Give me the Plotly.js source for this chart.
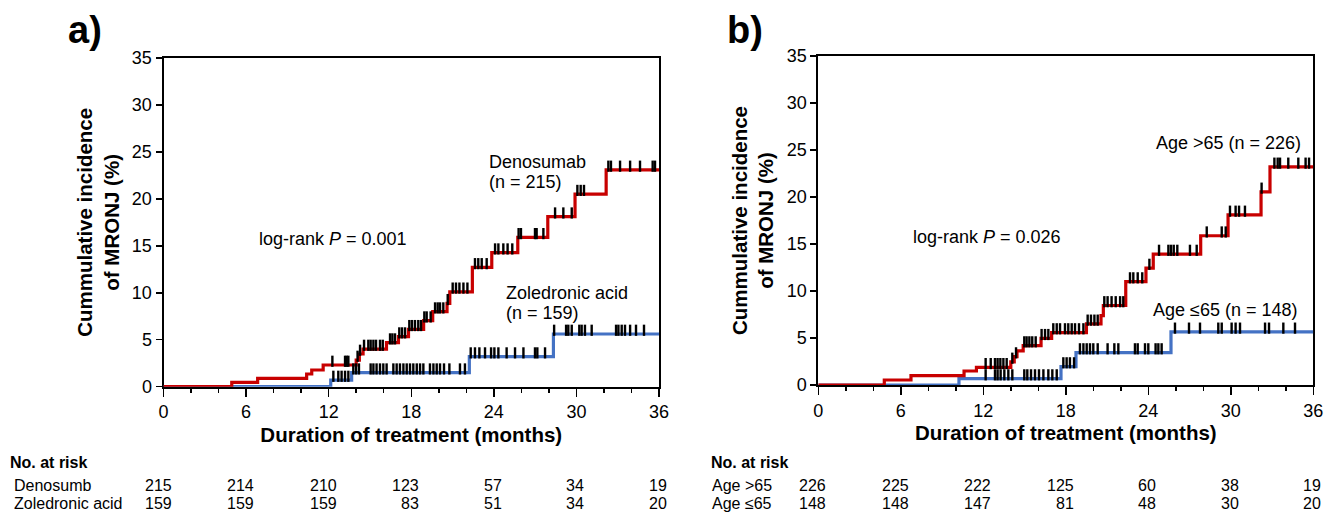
<!DOCTYPE html>
<html>
<head>
<meta charset="utf-8">
<script src="https://cdn.plot.ly/plotly-3.0.1.min.js"></script>
<style>html,body{margin:0;padding:0;background:#fff;}#chart{width:1336px;height:516px;}</style>
</head>
<body>
<div id="chart"></div>
<script>
// ---------- DATA ----------
const riskMonths = [0, 6, 12, 18, 24, 30, 36];

// Panel a: Denosumab
const denoStepT = [0, 4.96, 6.84, 10.4, 10.77, 11.6, 14.0, 14.23, 14.5, 16.2, 17.07, 17.8, 18.9, 19.56, 20.6, 20.8, 22.44, 23.85, 25.74, 27.92, 29.9, 32.16];
const denoStepV = [0, 0.47, 0.89, 1.35, 1.78, 2.31, 2.84, 3.48, 4.01, 4.69, 5.33, 6.11, 7.03, 7.99, 8.88, 10.1, 12.7, 14.27, 15.9, 18.1, 20.5, 23.08];
const denoCensorT = [12.27, 13.19, 13.31, 13.43, 14.1, 14.28, 14.57, 14.88, 15.05, 15.25, 15.44, 15.73, 15.93,
  16.46, 16.63, 16.82, 17.13, 17.33, 17.55, 17.86, 18.05, 18.27, 18.51, 18.71, 18.95, 19.12, 19.41,
  19.73, 19.92, 20.09, 20.33, 20.65, 21.01, 21.25, 21.5, 21.79, 22.08, 22.63, 22.87, 23.12, 23.48,
  24.09, 24.33, 24.69, 25.0, 25.34, 25.8, 25.97, 26.99, 27.11, 27.6, 28.45, 29.05, 29.66,
  30.07, 30.31, 30.55, 32.32, 32.51, 33.17, 33.9, 34.62, 35.54, 35.71];

// Panel a: Zoledronic acid
const zolStepT = [0, 12.15, 13.67, 22.22, 28.33];
const zolStepV = [0, 0.71, 1.49, 3.2, 5.61];
const zolCensorT = [12.34, 12.7, 12.94, 13.19, 13.43, 13.79, 13.99, 14.2, 15.05, 15.25, 15.48, 15.73, 15.97, 16.21,
  16.7, 16.94, 17.18, 17.43, 17.67, 17.91, 18.15, 18.4, 18.64, 18.88, 19.36, 19.61, 19.85, 20.09, 20.38, 20.77,
  21.54, 21.9, 22.32, 22.63, 22.95, 23.36, 23.8, 24.04, 24.33, 24.93, 25.54, 26.15, 26.99, 27.16, 27.72,
  28.38, 29.25, 29.41, 29.66, 30.21, 30.38, 30.62, 31.11, 32.88, 33.05, 33.29, 33.53, 33.9, 34.33, 34.91];

// Panel b: Age >65
const oldStepT = [0, 4.8, 6.74, 10.6, 11.5, 14.0, 14.25, 14.45, 14.9, 16.2, 16.97, 19.5, 20.56, 20.73, 22.36, 23.83, 24.36, 27.81, 29.8, 32.2, 32.85];
const oldStepV = [0, 0.53, 0.99, 1.49, 1.88, 2.45, 3.02, 3.62, 4.19, 4.97, 5.58, 6.5, 7.39, 8.46, 11.0, 12.44, 13.93, 15.88, 18.09, 20.54, 23.2];
const oldCensorT = [12.17, 12.54, 12.85, 13.04, 13.24, 13.46, 13.7, 14.11, 14.38, 14.98, 15.15, 15.35, 15.56, 15.81,
  16.24, 16.49, 16.73, 17.09, 17.34, 17.58, 17.94, 18.18, 18.43, 18.67, 18.96, 19.28, 19.59, 19.83, 20.08, 20.32,
  20.8, 21.04, 21.33, 21.63, 21.95, 22.18, 22.67, 22.91, 23.23, 23.56, 24.08, 24.78, 25.46, 25.65, 25.85, 26.11,
  27.03, 27.52, 28.25, 29.34, 29.63, 29.94, 30.35, 30.6, 31.03, 32.24, 33.17, 33.41, 33.58, 34.18, 34.91, 35.44, 35.69];

// Panel b: Age <=65
const youngStepT = [0, 10.23, 17.65, 18.74, 25.65];
const youngStepV = [0, 0.68, 1.96, 3.45, 5.65];
const youngCensorT = [12.17, 12.85, 13.04, 13.26, 13.53, 13.82, 14.11, 14.98, 15.2, 15.47, 15.76, 16.05, 16.37, 16.73, 17.02, 17.34,
  17.82, 18.06, 18.3, 18.6, 19.03, 19.28, 19.52, 19.76, 20.0, 20.32, 21.04, 21.53, 21.82, 23.03, 23.23, 23.76, 24.0,
  24.53, 24.73, 24.97, 25.94, 26.96, 27.76, 29.09, 29.34, 30.06, 30.35, 30.67, 32.49, 32.78, 33.82, 34.67];

// Numbers at risk
const riskDeno = [215, 214, 210, 123, 57, 34, 19];
const riskZol = [159, 159, 159, 83, 51, 34, 20];
const riskOld = [226, 225, 222, 125, 60, 38, 19];
const riskYoung = [148, 148, 147, 81, 48, 30, 20];

// ---------- BUILD ----------
const FONT = 'Liberation Sans, Arial, Helvetica, sans-serif';
const RED = '#C80000';
const BLUE = '#4472C4';
const END = 36;
const CENSOR_OFFSET = 0.4;

function stepTrace(T, V, color, xa, ya) {
  return {
    x: T.concat([END]), y: V.concat([V[V.length - 1]]),
    xaxis: xa, yaxis: ya, type: 'scatter', mode: 'lines',
    line: {shape: 'hv', color: color, width: 3.2}, hoverinfo: 'skip', showlegend: false
  };
}
function levelAt(t, T, V) {
  let v = V[0];
  for (let i = 0; i < T.length; i++) { if (T[i] <= t) v = V[i]; }
  return v;
}
function censorTrace(C, T, V, xa, ya) {
  return {
    x: C, y: C.map(t => levelAt(t, T, V) + CENSOR_OFFSET),
    xaxis: xa, yaxis: ya, type: 'scatter', mode: 'markers',
    marker: {symbol: 'line-ns', size: 8, line: {width: 2.4, color: '#000'}, color: '#000'},
    hoverinfo: 'skip', showlegend: false, cliponaxis: false
  };
}

const data = [
  stepTrace(zolStepT, zolStepV, BLUE, 'x', 'y'),
  stepTrace(denoStepT, denoStepV, RED, 'x', 'y'),
  censorTrace(zolCensorT, zolStepT, zolStepV, 'x', 'y'),
  censorTrace(denoCensorT, denoStepT, denoStepV, 'x', 'y'),
  stepTrace(youngStepT, youngStepV, BLUE, 'x2', 'y2'),
  stepTrace(oldStepT, oldStepV, RED, 'x2', 'y2'),
  censorTrace(youngCensorT, youngStepT, youngStepV, 'x2', 'y2'),
  censorTrace(oldCensorT, oldStepT, oldStepV, 'x2', 'y2')
];

function xAxis(domain, anchor) {
  return {
    domain: domain, anchor: anchor, range: [0, 36], dtick: 6, tick0: 0,
    showline: true, linewidth: 2, linecolor: '#000', mirror: true,
    ticks: 'outside', ticklen: 8, tickwidth: 1.5, tickcolor: '#000',
    minor: {dtick: 2, tick0: 0, ticks: 'outside', ticklen: 4, tickwidth: 1.5, tickcolor: '#000', showgrid: false},
    showgrid: false, zeroline: false, layer: 'below traces',
    tickfont: {family: FONT, size: 18, color: '#000'},
    title: {text: 'Duration of treatment (months)', font: {family: FONT, size: 20.5, color: '#000', weight: 'bold'}, standoff: 6},
    automargin: false, fixedrange: true
  };
}
function yAxis(domain, anchor) {
  return {
    domain: domain, anchor: anchor, range: [0, 35], dtick: 5, tick0: 0,
    showline: true, linewidth: 2, linecolor: '#000', mirror: true,
    ticks: 'outside', ticklen: 6, tickwidth: 1.5, tickcolor: '#000',
    showgrid: false, zeroline: false, layer: 'below traces',
    tickfont: {family: FONT, size: 18, color: '#000'},
    title: {text: 'Cummulative incidence<br>of MRONJ (%)', font: {family: FONT, size: 20.5, color: '#000', weight: 'bold'}, standoff: 7},
    automargin: false, fixedrange: true
  };
}

const annFont = {family: FONT, size: 18, color: '#000'};
const annotations = [];
function txt(text, x, y, xref, yref, xanchor, font, extra) {
  annotations.push(Object.assign({text: text, x: x, y: y, xref: xref, yref: yref, xanchor: xanchor, yanchor: 'middle', showarrow: false, font: font}, extra || {}));
}
// Panel labels
txt('a)', 66 / 1336, 0.942, 'paper', 'paper', 'left', {family: FONT, size: 38, color: '#000', weight: 'bold'});
txt('b)', 725 / 1336, 0.942, 'paper', 'paper', 'left', {family: FONT, size: 38, color: '#000', weight: 'bold'});
// Panel a labels
txt('Denosumab', 23.53, 23.96, 'x', 'y', 'left', annFont);
txt('(n = 215)', 23.53, 21.77, 'x', 'y', 'left', annFont);
txt('log-rank <i>P</i> = 0.001', 6.82, 15.7, 'x', 'y', 'left', annFont);
txt('Zoledronic acid', 24.74, 10.01, 'x', 'y', 'left', annFont);
txt('(n = 159)', 24.74, 7.82, 'x', 'y', 'left', annFont);
// Panel b labels
txt('Age >65 (n = 226)', 35.23, 25.71, 'x2', 'y2', 'right', annFont);
txt('log-rank <i>P</i> = 0.026', 6.72, 15.78, 'x2', 'y2', 'left', annFont);
txt('Age ≤65 (n = 148)', 34.98, 7.98, 'x2', 'y2', 'right', annFont);

// Risk tables
const riskFont = {family: FONT, size: 16, color: '#000'};
const riskBold = {family: FONT, size: 16, color: '#000', weight: 'bold'};
const rowY = [(516 - 462) / 516, (516 - 485) / 516, (516 - 503) / 516];
txt('No. at risk', 8 / 1336, rowY[0], 'paper', 'paper', 'left', riskBold);
txt('Denosumb', 12 / 1336, rowY[1], 'paper', 'paper', 'left', riskFont);
txt('Zoledronic acid', 12 / 1336, rowY[2], 'paper', 'paper', 'left', riskFont);
txt('No. at risk', 709 / 1336, rowY[0], 'paper', 'paper', 'left', riskBold);
txt('Age >65', 710 / 1336, rowY[1], 'paper', 'paper', 'left', riskFont);
txt('Age ≤65', 710 / 1336, rowY[2], 'paper', 'paper', 'left', riskFont);
riskMonths.forEach((m, i) => {
  txt(String(riskDeno[i]), m, rowY[1], 'x', 'paper', 'right', riskFont, {xshift: 10});
  txt(String(riskZol[i]), m, rowY[2], 'x', 'paper', 'right', riskFont, {xshift: 10});
  txt(String(riskOld[i]), m, rowY[1], 'x2', 'paper', 'right', riskFont, {xshift: 10});
  txt(String(riskYoung[i]), m, rowY[2], 'x2', 'paper', 'right', riskFont, {xshift: 10});
});

const layout = {
  width: 1336, height: 516,
  margin: {l: 0, r: 0, t: 0, b: 0},
  paper_bgcolor: '#fff', plot_bgcolor: '#fff',
  font: {family: FONT, color: '#000'},
  showlegend: false,
  xaxis: xAxis([163.5 / 1336, 659 / 1336], 'y'),
  yaxis: yAxis([(516 - 386.7) / 516, (516 - 58) / 516], 'x'),
  xaxis2: xAxis([818.3 / 1336, 1313.3 / 1336], 'y2'),
  yaxis2: yAxis([(516 - 385) / 516, (516 - 56) / 516], 'x2'),
  annotations: annotations
};

Plotly.newPlot('chart', data, layout, {staticPlot: true, displayModeBar: false});
</script>
</body>
</html>
